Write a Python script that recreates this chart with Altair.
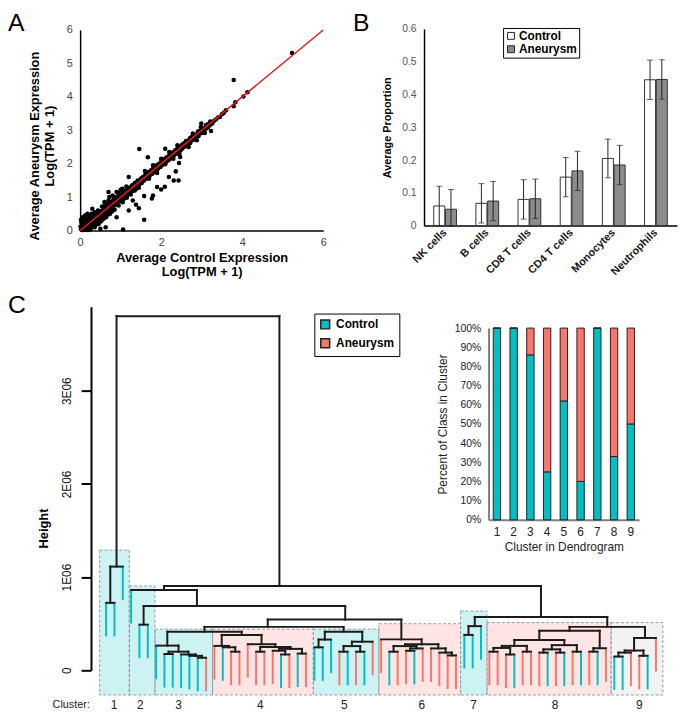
import altair as alt
import pandas as pd

W, H = 678, 706
CYAN, SALMON = "#00BFC4", "#F8766D"
FONT = "Liberation Sans"

# ---------------- Panel A : per-gene average expression ----------------
genes_low = [(0.02,0.05),(0.05,0.18),(0.08,0.02),(0.10,0.30),(0.12,0.10),(0.15,0.22),(0.18,0.05),(0.20,0.38),
             (0.22,0.15),(0.25,0.28),(0.27,0.10),(0.30,0.42),(0.32,0.22),(0.35,0.33),(0.37,0.18),(0.40,0.48),
             (0.42,0.30),(0.45,0.40),(0.47,0.25),(0.50,0.55),(0.05,0.35),(0.03,0.25),(0.13,0.40),(0.08,0.12),
             (0.18,0.30),(0.28,0.35),(0.38,0.40),(0.48,0.45),(0.15,0.02),(0.25,0.15),(0.35,0.20),(0.45,0.30),
             (0.10,0.20),(0.20,0.20),(0.30,0.30),(0.40,0.35),(0.06,0.08),(0.16,0.14),(0.26,0.24),(0.36,0.28),
             (0.46,0.50),(0.23,0.45),(0.33,0.50),(0.12,0.45),(0.30,0.12),(0.40,0.22),(0.50,0.35),(0.55,0.40),
             (0.01,0.12),(0.04,0.02),(0.22,0.02),(0.07,0.40),(0.02,0.32),(0.06,0.28),(0.11,0.36),(0.17,0.42),
             (0.21,0.08),(0.26,0.05),(0.31,0.18),(0.36,0.10),(0.41,0.18),(0.46,0.20),(0.52,0.28),(0.58,0.35),
             (0.64,0.40),(0.69,0.48),(0.74,0.50),(0.79,0.58),(0.54,0.72),(0.44,0.60),(0.36,0.55),(0.28,0.50),
             (0.18,0.50)]
genes_mid = [(0.55,0.60),(0.58,0.45),(0.60,0.70),(0.62,0.55),(0.65,0.62),(0.68,0.80),(0.70,0.60),(0.72,0.72),
             (0.75,0.85),(0.78,0.65),(0.80,0.78),(0.82,0.92),(0.85,0.75),(0.88,0.88),(0.90,1.00),(0.92,0.80),
             (0.95,0.95),(0.98,1.08),(1.00,0.88),(1.02,1.00),(1.05,1.15),(1.08,0.95),(1.10,1.08),(1.12,1.20),
             (1.15,1.02),(1.18,1.15),(1.20,1.28),(1.22,1.10),(1.25,1.22),(1.28,1.35),(1.30,1.18),(1.32,1.30),
             (1.35,1.42),(1.38,1.25),(1.40,1.38),(1.42,1.50),(1.45,1.35),(1.48,1.45),(1.50,1.55),(0.60,0.85),
             (0.70,0.90),(0.80,1.05),(0.90,1.15),(1.00,1.22),(0.65,0.45),(0.75,0.55),(0.85,0.62),(0.95,0.75),
             (1.05,0.85),(1.15,0.98),(1.25,1.08),(1.35,1.20),(1.45,1.28),(0.72,1.00),(0.62,0.75),(0.57,0.52),
             (0.84,1.00),(0.94,1.12),(1.04,1.25),(1.14,1.32)]
genes_band = [(0.05,0.10),(0.09,0.16),(0.14,0.08),(0.19,0.25),(0.24,0.20),(0.29,0.22),(0.34,0.40),(0.39,0.30),
              (0.44,0.45),(0.49,0.42),(0.53,0.58),(0.57,0.50),(0.61,0.66),(0.66,0.60),(0.71,0.76),(0.76,0.70),
              (0.81,0.86),(0.86,0.80),(0.91,0.96),(0.96,0.90),(1.01,1.06),(1.06,1.00),(1.11,1.15),(1.16,1.10),
              (1.21,1.25),(1.26,1.18),(1.31,1.36),(1.36,1.30),(1.41,1.45),(1.46,1.40),(1.51,1.56),(1.56,1.50),
              (1.61,1.66),(1.66,1.60),(1.71,1.76),(1.76,1.70),(1.81,1.86),(1.86,1.80),(1.91,1.96),(1.96,1.90),
              (2.01,2.06),(2.06,2.00),(2.11,2.16),(2.16,2.10),(2.21,2.26),(2.26,2.20),(2.31,2.36),(2.36,2.30),
              (2.41,2.46),(2.46,2.40),(2.51,2.56),(2.56,2.50),(2.61,2.66),(2.66,2.60),(2.71,2.76),(2.76,2.70),
              (2.81,2.86),(2.86,2.80),(2.91,2.96),(2.96,2.90),(3.01,3.06),(3.06,3.00),(3.11,3.16),(3.16,3.10),
              (3.21,3.26),(3.26,3.20)]
genes_high = [(1.52,1.42),(1.55,1.60),(1.58,1.50),(1.60,1.65),(1.62,1.55),(1.65,1.72),(1.68,1.60),(1.70,1.75),
              (1.72,1.65),(1.75,1.80),(1.78,1.70),(1.80,1.85),(1.82,1.75),(1.85,1.90),(1.88,1.80),(1.90,1.95),
              (1.92,1.85),(1.95,2.00),(1.98,1.90),(2.00,2.05),(2.02,1.95),(2.05,2.10),(2.08,2.00),(2.10,2.15),
              (2.12,2.05),(2.15,2.20),(2.18,2.10),(2.20,2.25),(2.22,2.15),(2.25,2.30),(2.28,2.20),(2.30,2.35),
              (2.32,2.25),(2.35,2.40),(2.38,2.30),(2.40,2.45),(2.42,2.35),(2.45,2.50),(2.48,2.40),(2.50,2.52),
              (1.60,1.78),(1.70,1.55),(1.80,1.95),(1.90,1.72),(2.00,2.15),(2.10,1.98),(2.20,2.35),(2.30,2.15),
              (2.40,2.55),(2.45,2.30)]
genes_top = [(2.52,2.45),(2.55,2.60),(2.60,2.52),(2.62,2.68),(2.65,2.58),(2.70,2.72),(2.72,2.62),(2.75,2.80),
             (2.80,2.72),(2.82,2.85),(2.85,2.78),(2.90,2.92),(2.92,2.82),(2.95,2.98),(3.00,2.92),(3.02,3.05),
             (3.05,2.98),(3.10,3.12),(3.12,3.05),(3.15,3.18),(3.20,3.15),(3.25,3.22),(3.30,3.28),(3.35,3.32),
             (3.40,3.38),(3.50,3.48),(3.55,3.52),(2.68,2.50),(2.78,2.90),(2.88,2.70),(2.98,3.10),(3.08,2.92)]
genes_off = [(5.23,5.31),(3.79,4.50),(3.79,3.72),(3.83,3.84),(4.03,4.01),(4.13,4.14),(3.23,2.98),(2.99,3.20),
             (1.46,2.44),(1.67,2.19),(2.44,2.02),(2.47,2.20),(2.36,1.77),(2.19,1.60),(2.31,1.50),(2.43,1.50),
             (2.09,1.31),(2.00,1.23),(1.90,1.30),(1.77,0.96),(1.80,1.05),(1.58,1.03),(1.38,0.77),(1.45,0.67),
             (1.58,0.32),(1.06,0.03),(0.63,0.10),(1.20,0.60),(0.90,0.40),(1.30,0.90),(0.50,0.05),(0.30,0.65),
             (0.70,1.15),(3.60,3.60),(3.45,3.40),(2.10,2.45),(1.20,1.60)]
fit_x = [0, 6]
fit_y = [0, 6]

# ---------------- Panel B : deconvolved cell proportions ----------------
cell_types = ["NK cells", "B cells", "CD8 T cells", "CD4 T cells", "Monocytes", "Neutrophils"]
groups = ["Control", "Aneurysm"]
ctrl_prop = [0.060, 0.068, 0.080, 0.148, 0.205, 0.445]
aneu_prop = [0.050, 0.075, 0.082, 0.167, 0.185, 0.446]
ctrl_err = [0.060, 0.060, 0.060, 0.060, 0.059, 0.060]
aneu_err = [0.060, 0.060, 0.060, 0.060, 0.060, 0.060]

# ---------------- Panel C : dendrogram ----------------
leaf_class = "CCC" "CCC" "CCCCCCA" "ACAAAAAACACA" "CCCACACA" "ACAACAAAAA" "CCC" "AAACAAACACACACA" "CCAACA"
class_names = {"C": "Control", "A": "Aneurysm"}
tree_merges = [
    ("c1a", 0, 1, 0.724), ("C1", "c1a", 2, 1.113),
    ("c2a", 4, 5, 0.49),
    ("s1", 7, 8, 0.175), ("s2", 11, 12, 0.135), ("s3", 10, "s2", 0.155), ("s4", 9, "s3", 0.17),
    ("s5", "s1", "s4", 0.20), ("C3", 6, "s5", 0.265),
    ("d1", 15, 16, 0.20), ("d2", 14, "d1", 0.247), ("d3", 13, "d2", 0.262),
    ("r1", 23, 24, 0.18), ("r2", 21, 22, 0.17), ("r3", 20, "r2", 0.21), ("r4", "r3", "r1", 0.23),
    ("r5", 18, 19, 0.20), ("r6", "r5", "r4", 0.25), ("r7", 17, "r6", 0.28), ("C4", "d3", "r7", 0.38),
    ("X", "C3", "C4", 0.414),
    ("e1", 25, 26, 0.247), ("e2", "e1", 27, 0.33), ("e3", 28, 29, 0.20), ("e4", 30, 31, 0.20),
    ("e5", "e3", "e4", 0.26), ("e6", "e5", 32, 0.307), ("C5", "e2", "e6", 0.414),
    ("N3", "X", "C5", 0.466),
    ("f1", 34, 35, 0.20), ("f2", 36, 37, 0.21), ("f3", "f2", 38, 0.235), ("f4", "f1", "f3", 0.26),
    ("f5", 41, 42, 0.16), ("f6", 40, "f5", 0.19), ("f7", 39, "f6", 0.235), ("f8", "f4", "f7", 0.28),
    ("C6", 33, "f8", 0.332),
    ("N2", "N3", "C6", 0.544), ("N1", "c2a", "N2", 0.69), ("P", 3, "N1", 0.862),
    ("g1", 43, 44, 0.38), ("C7", "g1", 45, 0.474),
    ("h1", 46, 47, 0.20), ("h2", 48, 49, 0.17), ("h3", "h1", "h2", 0.24), ("h4", 50, 51, 0.20),
    ("h5", "h3", "h4", 0.262), ("h6", 52, 53, 0.19), ("h7", 54, 55, 0.19), ("h8", "h6", "h7", 0.225),
    ("h9", 56, 57, 0.20), ("h10", "h8", "h9", 0.27), ("h11", "h5", "h10", 0.325),
    ("h12", 58, 59, 0.20), ("h13", "h12", 60, 0.237), ("C8", "h11", "h13", 0.424),
    ("i1", 61, 62, 0.148), ("i2", "i1", 63, 0.19), ("i3", 64, 65, 0.156), ("i4", "i2", "i3", 0.212),
    ("C9", "i4", 66, 0.347),
    ("S", "C8", "C9", 0.466), ("Q", "C7", "S", 0.573), ("R2", "P", "Q", 0.905), ("root", "C1", "R2", 3.80),
]
node_x_override = {"N1": 10.9, "N2": 28.7, "N3": 19.4, "R2": 20.8}
leaf_hang = 0.36

cluster_ids = ["1", "2", "3", "4", "5", "6", "7", "8", "9"]
box_left = [-0.78, 2.78, 5.86, 12.78, 24.87, 32.74, 42.55, 45.72, 60.62]
box_right = [2.78, 5.86, 12.78, 24.87, 32.74, 42.55, 45.72, 60.62, 66.83]
box_top = [1.29, 0.905, 0.442, 0.442, 0.442, 0.50, 0.636, 0.512, 0.512]
box_bottom = -0.265
box_majority = ["Control", "Control", "Control", "Aneurysm", "Control", "Aneurysm", "Control", "Aneurysm", "Mixed"]
label_pos = [0.96, 4.1, 8.7, 18.5, 28.6, 37.9, 44.1, 53.9, 64.0]
pct_control = [100, 100, 86, 25, 62, 20, 100, 33, 50]

# ================= build tables =================
dfA = pd.DataFrame(genes_low + genes_mid + genes_band + genes_high + genes_top + genes_off,
                   columns=["ctrl", "aneu"])
dfFit = pd.DataFrame({"ctrl": fit_x, "aneu": fit_y})

rowsB = []
for i, c in enumerate(cell_types):
    for g, v, e in (("Control", ctrl_prop[i], ctrl_err[i]), ("Aneurysm", aneu_prop[i], aneu_err[i])):
        rowsB.append(dict(cell=c, group=g, value=v, lo=max(0.0, v - e), hi=v + e))
dfB = pd.DataFrame(rowsB)

xpos = {i: float(i) for i in range(len(leaf_class))}
hpos = {}
int_rows, leaf_rows = [], []
for name, a, b, h in tree_merges:
    xpos[name] = node_x_override.get(name, (xpos[a] + xpos[b]) / 2)
    hpos[name] = h
    int_rows.append(dict(x=xpos[a], x2=xpos[b], y=h, y2=h))
    for c in (a, b):
        if isinstance(c, int):
            leaf_rows.append(dict(x=xpos[c], y=h, y2=h - leaf_hang, cls=class_names[leaf_class[c]]))
        else:
            int_rows.append(dict(x=xpos[c], x2=xpos[c], y=h, y2=hpos[c]))
dfInt = pd.DataFrame(int_rows)
dfLeaf = pd.DataFrame(leaf_rows)
dfBox = pd.DataFrame(dict(left=box_left, right=box_right, top=box_top,
                          bottom=[box_bottom] * 9, kind=box_majority))
dfLab = pd.DataFrame(dict(pos=label_pos, label=cluster_ids))

rowsD = []
for cid, p in zip(cluster_ids, pct_control):
    rowsD.append(dict(cluster=cid, cls="Control", lo=0.0, hi=p / 100))
    rowsD.append(dict(cluster=cid, cls="Aneurysm", lo=p / 100, hi=1.0))
dfD = pd.DataFrame(rowsD)

# ================= Panel A =================
xA = alt.X("ctrl:Q", scale=alt.Scale(domain=[0, 6], range=[73, 319], nice=False, zero=False),
           axis=alt.Axis(orient="bottom", offset=221 - H, values=[0, 2, 4, 6], tickSize=0, labelPadding=6,
                         labelFlush=False, labelFontSize=11, labelColor="#444", domainColor="black",
                         domainWidth=1.5, title=["Average Control Expression", "Log(TPM + 1)"],
                         titleFontSize=13, titleFontWeight="bold", titleColor="black", titlePadding=4,
                         titleLineHeight=14.5))
yA = alt.Y("aneu:Q", scale=alt.Scale(domain=[0, 6], range=[221, 18], nice=False, zero=False),
           axis=alt.Axis(orient="left", offset=-73, values=[0, 1, 2, 3, 4, 5, 6], tickSize=0, labelPadding=8,
                         labelFontSize=11, labelColor="#444", domainColor="black", domainWidth=1.5,
                         title=["Average Aneurysm Expression", "Log(TPM + 1)"], titleFontSize=13,
                         titleFontWeight="bold", titleColor="black", titleY=135, titlePadding=10,
                         titleLineHeight=15))
panelA = alt.layer(
    alt.Chart(dfA).mark_circle(size=21, color="black", opacity=1).encode(x=xA, y=yA),
    alt.Chart(dfFit).mark_line(color="#e8161b", strokeWidth=1.5).encode(x=xA, y=yA),
)

# ================= Panel B =================
xB = alt.X("cell:N", sort=cell_types,
           scale=alt.Scale(domain=cell_types, range=[421, 677], paddingInner=0.46, paddingOuter=0.23),
           axis=alt.Axis(orient="bottom", offset=216 - H, title=None, tickSize=0, labelAngle=315,
                         labelAlign="right", labelBaseline="middle", labelFontWeight="bold", labelFontSize=11,
                         labelColor="#1a1a1a", labelPadding=5, domainColor="black", domainWidth=1.5))
xoB = alt.XOffset("group:N", sort=groups, scale=alt.Scale(domain=groups, paddingInner=0.06))
ysB = alt.Scale(domain=[0, 0.6], range=[216, 17], nice=False, zero=False)
axB = alt.Axis(orient="left", offset=-421, values=[0, 0.1, 0.2, 0.3, 0.4, 0.5, 0.6], format="~g", tickSize=0,
               labelPadding=8, labelFontSize=10.5, labelColor="#555", domainColor="black", domainWidth=1.5,
               title="Average Proportion", titleFontSize=11, titleFontWeight="bold", titleColor="black",
               titlePadding=9)
panelB = alt.layer(
    alt.Chart(dfB).mark_bar(stroke="#333", strokeWidth=1).encode(
        x=xB, xOffset=xoB, y=alt.Y("value:Q", scale=ysB, axis=axB),
        fill=alt.Fill("group:N", scale=alt.Scale(domain=groups, range=["white", "#8c8c8c"]),
                      legend=alt.Legend(title=None, orient="none", legendX=501, legendY=16,
                                        symbolType="square", symbolSize=49, symbolStrokeColor="#222",
                                        symbolStrokeWidth=1, labelFontSize=12, labelFontWeight="bold",
                                        labelColor="black", labelOffset=2, strokeColor="black",
                                        padding=2, rowPadding=1.5))),
    alt.Chart(dfB).mark_rule(color="#222", strokeWidth=1).encode(
        x=xB, xOffset=xoB, y=alt.Y("lo:Q", scale=ysB, axis=axB), y2="hi:Q"),
    alt.Chart(dfB).mark_tick(orient="horizontal", size=6, thickness=1, color="#222").encode(
        x=xB, xOffset=xoB, y=alt.Y("hi:Q", scale=ysB, axis=axB)),
    alt.Chart(dfB).mark_tick(orient="horizontal", size=6, thickness=1, color="#222").encode(
        x=xB, xOffset=xoB, y=alt.Y("lo:Q", scale=ysB, axis=axB)),
)

# ================= Panel C : dendrogram =================
xsC = alt.Scale(domain=[-1, 67], range=[90.87, 664.11], nice=False, zero=False)
ysLeaf = alt.Scale(domain=[-0.3, 3.9], range=[694.29, 298.23], nice=False, zero=False)
ysInt = alt.Scale(domain=[0, 3.9], range=[666, 298.23], nice=False, zero=False)

panelC_low = alt.layer(
    alt.Chart(dfBox).mark_rect(fillOpacity=0.2, stroke="#9a9a9a", strokeWidth=1, strokeDash=[3, 2]).encode(
        x=alt.X("left:Q", scale=xsC, axis=None), x2="right:Q",
        y=alt.Y("top:Q", scale=ysLeaf, axis=None), y2="bottom:Q",
        fill=alt.Fill("kind:N", scale=alt.Scale(domain=["Control", "Aneurysm", "Mixed"],
                                                range=[CYAN, SALMON, "#bdbdbd"]), legend=None)),
    alt.Chart(dfLeaf).mark_rule(strokeWidth=2).encode(
        x=alt.X("x:Q", scale=xsC, axis=None), y=alt.Y("y:Q", scale=ysLeaf, axis=None), y2="y2:Q",
        stroke=alt.Stroke("cls:N", scale=alt.Scale(domain=groups, range=[CYAN, SALMON]), legend=None)),
    alt.Chart(dfLab).mark_text(fontSize=12, color="#222", baseline="middle").encode(
        x=alt.X("pos:Q", scale=xsC, axis=None), y=alt.value(701), text="label:N"),
)

panelC_int = alt.Chart(dfInt).mark_rule(strokeWidth=2, color="#1b1b1b", strokeCap="square").encode(
    x=alt.X("x:Q", scale=xsC, axis=None), x2="x2:Q",
    y=alt.Y("y:Q", scale=ysInt,
            axis=alt.Axis(orient="left", offset=-84, values=[0, 1, 2, 3],
                          labelExpr="datum.value == 0 ? '0' : datum.value + 'E06'", labelAngle=270,
                          labelAlign="center", labelBaseline="bottom", labelFontSize=12, labelColor="#111",
                          labelPadding=8, tickSize=10, tickWidth=2, tickColor="black", domainColor="black",
                          domainWidth=2, title="Height", titleFontSize=13, titleFontWeight="bold",
                          titleColor="black", titleY=522, titlePadding=10)),
    y2="y2:Q",
)

# ================= Panel C inset =================
panelD = alt.Chart(dfD).mark_bar(stroke="#222", strokeWidth=1).encode(
    x=alt.X("cluster:N", sort=cluster_ids,
            scale=alt.Scale(domain=cluster_ids, range=[486.3, 638.7], paddingInner=0.56, paddingOuter=0.28),
            axis=alt.Axis(orient="bottom", offset=513.7 - H, labelAngle=0, tickSize=0, labelPadding=7,
                          labelFontSize=12, labelColor="#222", domainColor="#7f7f7f", domainWidth=2,
                          title="Cluster in Dendrogram", titleFontSize=12, titleFontWeight="normal",
                          titleColor="#222", titlePadding=4)),
    y=alt.Y("lo:Q", scale=alt.Scale(domain=[0, 1], range=[513.7, 319.7], nice=False, zero=False),
            axis=alt.Axis(orient="left", offset=-486.3,
                          values=[0, 0.1, 0.2, 0.3, 0.4, 0.5, 0.6, 0.7, 0.8, 0.9, 1.0], format=".0%",
                          tickSize=0, labelPadding=8, labelFontSize=10.5, labelColor="#222",
                          domainColor="#7f7f7f", domainWidth=2, title="Percent of Class in Cluster",
                          titleFontSize=12, titleFontWeight="normal", titleColor="#222", titlePadding=5)),
    y2="hi:Q",
    color=alt.Color("cls:N", scale=alt.Scale(domain=groups, range=[CYAN, SALMON]),
                    legend=alt.Legend(title=None, orient="none", legendX=310, legendY=305,
                                      symbolType="square", symbolSize=81, symbolStrokeColor="#222",
                                      symbolStrokeWidth=1.5, labelFontSize=12, labelFontWeight="bold",
                                      labelColor="black", labelOffset=5, strokeColor="black",
                                      padding=5, rowPadding=3)),
)

# ================= annotations =================
annot = alt.layer(
    alt.Chart().mark_text(text="A", fontSize=25, align="left", baseline="alphabetic", color="black").encode(
        x=alt.value(0), y=alt.value(19)),
    alt.Chart().mark_text(text="B", fontSize=25, align="left", baseline="alphabetic", color="black").encode(
        x=alt.value(349), y=alt.value(19)),
    alt.Chart().mark_text(text="C", fontSize=25, align="left", baseline="alphabetic", color="black").encode(
        x=alt.value(0), y=alt.value(304)),
    alt.Chart().mark_text(text="Cluster:", fontSize=11, align="center", baseline="middle", color="#222").encode(
        x=alt.value(64), y=alt.value(701)),
)

chart = alt.layer(panelC_low, panelC_int, panelA, panelB, panelD, annot).resolve_scale(
    x="independent", y="independent", fill="independent", color="independent", stroke="independent"
).properties(
    width=W, height=H, padding=0, autosize=alt.AutoSizeParams(type="none")
).configure(font=FONT).configure_view(strokeWidth=0).configure_axis(grid=False, labelFont=FONT, titleFont=FONT)

chart.save("out.html", embed_options={"renderer": "svg", "actions": False})
